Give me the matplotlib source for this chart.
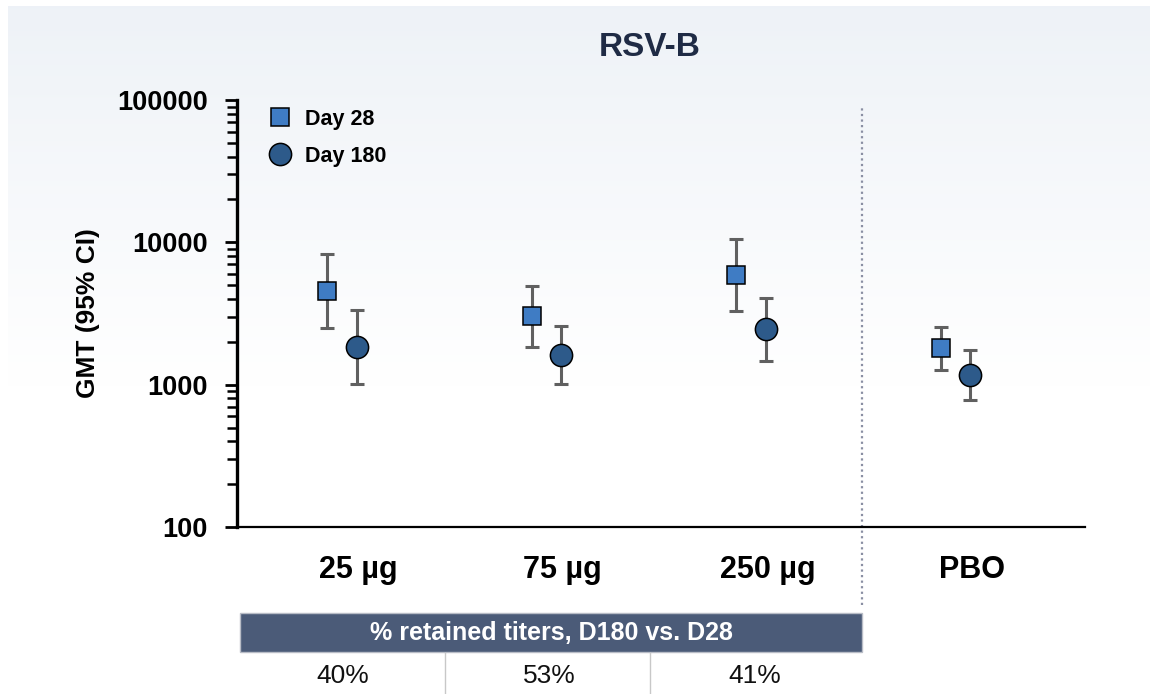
import matplotlib

matplotlib.use("Agg")
import matplotlib.pyplot as plt
import numpy as np
from matplotlib.lines import Line2D
from matplotlib.patches import Rectangle
from matplotlib.ticker import LogLocator, NullFormatter, FixedLocator, FixedFormatter

plt.rcParams["font.family"] = ["Liberation Sans", "DejaVu Sans"]

# data
groups = ["25 µg", "75 µg", "250 µg", "PBO"]
day28_gmt = [4570, 3050, 5915, 1820]
day28_lo = [2510, 1850, 3305, 1260]
day28_hi = [8300, 4950, 10590, 2550]
day180_gmt = [1848, 1625, 2470, 1175]
day180_lo = [1016, 1016, 1473, 785]
day180_hi = [3360, 2595, 4080, 1740]
retained = ["40%", "53%", "41%"]

SQ_COL = "#3f7cc4"
CI_COL = "#2d5a8a"
BAR_COL = "#606060"
HEAD_COL = "#4b5b78"
TITLE_COL = "#1f2b45"

W, H = 1157, 694
fig = plt.figure(figsize=(W / 100, H / 100), dpi=100, facecolor="white")

# background panel with soft vertical gradient
bg = fig.add_axes([8 / W, 0, 1142 / W, 1 - 6 / H], zorder=-10)
grad = np.linspace(0, 1, 256).reshape(-1, 1)
top = np.array([0.933, 0.949, 0.969])
bot = np.array([1.0, 1.0, 1.0])
t = np.clip(grad / 0.55, 0, 1)
img = top * (1 - t) + bot * t
bg.imshow(img[:, None, :].repeat(2, axis=1), aspect="auto", extent=[0, 1, 0, 1], origin="upper")
bg.set_axis_off()

ax = fig.add_axes([237 / W, 1 - 527 / H, 848 / W, 427 / H])
ax.patch.set_alpha(0)

x = np.arange(len(groups))
off = 0.073

d28 = np.array(day28_gmt)
d180 = np.array(day180_gmt)
err28 = [d28 - np.array(day28_lo), np.array(day28_hi) - d28]
err180 = [d180 - np.array(day180_lo), np.array(day180_hi) - d180]

ax.errorbar(x - off, d28, yerr=err28, fmt="none", ecolor=BAR_COL, elinewidth=2.2,
            capsize=4.8, capthick=2.2, zorder=2)
ax.errorbar(x + off, d180, yerr=err180, fmt="none", ecolor=BAR_COL, elinewidth=2.2,
            capsize=4.8, capthick=2.2, zorder=2)
ax.plot(x - off, d28, ls="none", marker="s", ms=13.5, mfc=SQ_COL, mec="black",
        mew=1.1, zorder=3, label="Day 28")
ax.plot(x + off, d180, ls="none", marker="o", ms=16, mfc=CI_COL, mec="black",
        mew=1.1, zorder=3, label="Day 180")

ax.set_yscale("log")
ax.set_ylim(100, 100000)
ax.set_xlim(-0.513, 3.633)

ax.yaxis.set_major_locator(FixedLocator([100, 1000, 10000, 100000]))
ax.yaxis.set_major_formatter(FixedFormatter(["100", "1000", "10000", "100000"]))
ax.yaxis.set_minor_locator(LogLocator(base=10, subs=np.arange(2, 10)))
ax.yaxis.set_minor_formatter(NullFormatter())
ax.tick_params(axis="y", which="major", length=9, width=2, pad=12, labelsize=19.5)
ax.tick_params(axis="y", which="minor", length=7, width=1.8)
for lab in ax.get_yticklabels():
    lab.set_fontweight("bold")

ax.set_xticks(x + 0.08)
ax.set_xticklabels(groups, fontsize=22, fontweight="bold")
ax.tick_params(axis="x", length=0, pad=20)

for s in ["top", "right"]:
    ax.spines[s].set_visible(False)
ax.spines["left"].set_linewidth(2.4)
ax.spines["bottom"].set_linewidth(1.6)

ax.set_ylabel("GMT (95% CI)", fontsize=19, fontweight="bold", labelpad=12)

# dotted separator before placebo
sep_x = 2.543
ax.plot([sep_x, sep_x], [-0.183, 0.981], transform=ax.get_xaxis_transform(),
        ls=(0, (1, 1.5)), color="#8a8fa3", lw=1.6, clip_on=False, zorder=1)

leg = ax.legend(loc="upper left", bbox_to_anchor=(0.015, 1.0), frameon=False,
                prop={"weight": "bold", "size": 15.5}, handletextpad=0.15,
                labelspacing=0.75, markerscale=1.0, borderaxespad=0)

fig.text(650 / W, 1 - 47 / H, "RSV-B", ha="center", va="center", fontsize=24,
         fontweight="bold", color=TITLE_COL)

# retained-titer table under the dose groups
fig.patches.append(Rectangle((240 / W, 1 - 652 / H), 622 / W, 39 / H,
                             transform=fig.transFigure, facecolor=HEAD_COL,
                             edgecolor="#b8bcc6", lw=1))
fig.text(551 / W, 1 - 633 / H, "% retained titers, D180 vs. D28", ha="center",
         va="center", fontsize=18, fontweight="bold", color="white")
cell_edges = [240, 445, 650, 862]
for i, val in enumerate(retained):
    cx = 343 + 206 * i
    fig.text(cx / W, 1 - 676 / H, val, ha="center", va="center", fontsize=19,
             color="#111111")
for e in cell_edges[1:3]:
    fig.add_artist(Line2D([e / W, e / W], [0, 1 - 653 / H], color="#c8c8c8", lw=1))

fig.savefig("out.png", dpi=100, facecolor="white")
